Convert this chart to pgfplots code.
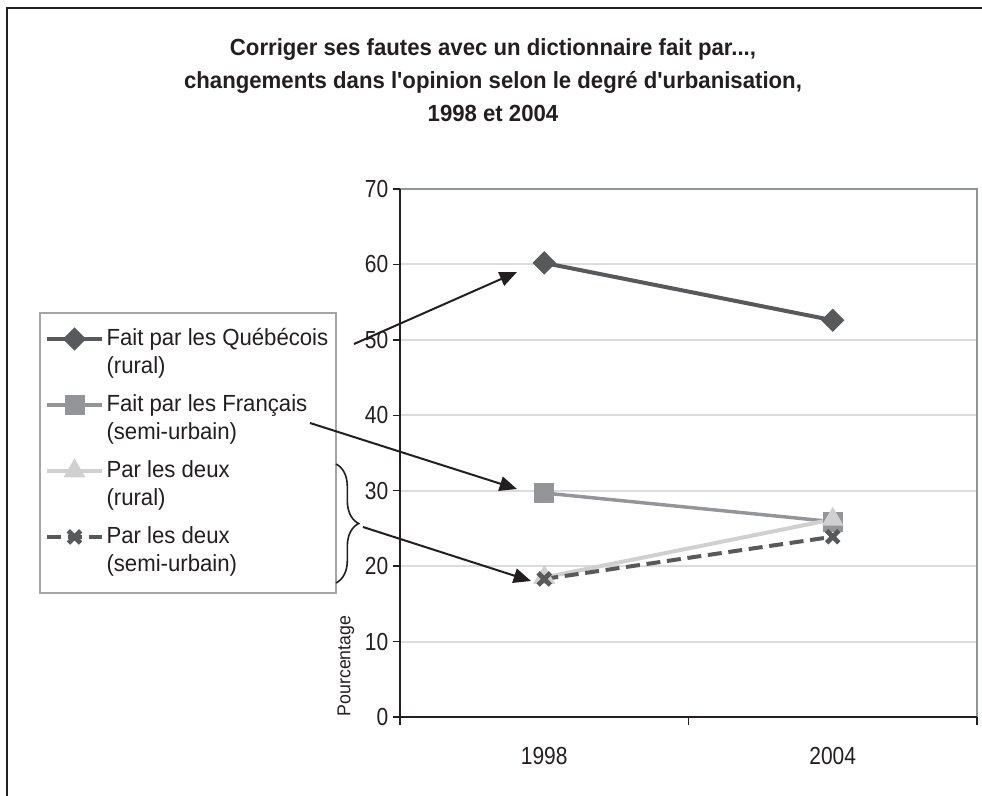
\documentclass[border=0pt]{standalone}
\usepackage{fontspec}
\setmainfont[FakeStretch=0.95, Ligatures=TeXOff]{Liberation Sans}
\newfontfamily\tickfont[FakeStretch=0.85]{Liberation Sans}
\usepackage{pgfplots}
\pgfplotsset{compat=1.18}
\usetikzlibrary{arrows.meta,decorations.pathreplacing}

\definecolor{qcol}{HTML}{58595B}
\definecolor{fcol}{HTML}{939598}
\definecolor{rcol}{HTML}{D0D0D0}
\definecolor{boxcol}{HTML}{8E969B}
\definecolor{gridcol}{HTML}{DCDCDC}
\definecolor{legcol}{HTML}{A5A5A5}
\definecolor{ink}{HTML}{231F20}

\begin{document}
\begin{tikzpicture}
% page = 982 x 796 px, 1 px = 0.75pt
\path[use as bounding box] (0,0) rectangle (736.5pt,-597pt);

\begin{axis}[
  at={(300pt,-537.75pt)}, anchor=south west,
  scale only axis, width=432.75pt, height=396pt,
  clip=false,
  xmin=0, xmax=2, ymin=0, ymax=70,
  xtick={0.5,1.5}, xticklabels={1998,2004},
  minor xtick={0,1,2},
  ytick={0,10,...,70},
  tick pos=left, tick align=outside,
  major x tick style={draw=none},
  major tick length=5.25pt, minor tick length=6pt,
  tick style={ink, line width=1pt},
  ymajorgrids, grid style={gridcol, line width=1.5pt},
  axis line style={draw=none},
  ticklabel style={font=\tickfont\fontsize{18.5}{20}\selectfont, text=ink},
  /pgf/number format/assume math mode=true,
  xticklabel style={yshift=-14pt},
  legend style={at={(-0.625,0.7675)}, anchor=north west,
    draw=legcol, line width=1.5pt, fill=white,
    font=\fontsize{17.5}{21}\selectfont, text=ink,
    row sep=3.5pt, inner xsep=3.6pt, inner ysep=7.9pt,
    nodes={text depth=, inner sep=2pt},
    cells={anchor=base west}},
  legend cell align=left,
  legend image code/.code={
    \draw[mark repeat=2, mark phase=2, #1]
      plot coordinates {(0pt,11.25pt) (20.5pt,11.25pt) (41pt,11.25pt)};},
]
\addplot[qcol, line width=3pt, mark=square*, mark size=4.7pt,
  mark options={rotate=45, solid}] coordinates {(0.5,60.2) (1.5,52.6)};
\addlegendentry{\begin{tabular}[t]{@{}l@{}}Fait par les Québécois\\(rural)\end{tabular}}
\addplot[fcol, line width=2.6pt, mark=square*, mark size=6.2pt,
  mark options={solid}] coordinates {(0.5,29.7) (1.5,25.9)};
\addlegendentry{\begin{tabular}[t]{@{}l@{}}Fait par les Français\\(semi-urbain)\end{tabular}}
\addplot[rcol, line width=3pt, mark=triangle*, mark size=6.5pt,
  mark options={solid}] coordinates {(0.5,18.5) (1.5,26.2)};
\addlegendentry{\begin{tabular}[t]{@{}l@{}}Par les deux\\(rural)\end{tabular}}
\addplot[qcol, line width=3pt, dash pattern=on 10.5pt off 5pt, mark=x,
  mark size=6.5pt, mark options={solid, line width=3.6pt}]
  coordinates {(0.5,18.3) (1.5,23.9)};
\addlegendentry{\begin{tabular}[t]{@{}l@{}}Par les deux\\(semi-urbain)\end{tabular}}

\draw[boxcol, line width=1.9pt] (rel axis cs:0,1) -- (rel axis cs:1,1) -- (rel axis cs:1,0);
\draw[ink, line width=1.1pt] (rel axis cs:0,1) -- (rel axis cs:0,0) -- (rel axis cs:1,0);
\end{axis}

\begin{scope}[x=0.75pt, y=-0.75pt]
  % outer frame
  \draw[ink, line width=1.8pt] (7,800) -- (7,8) -- (990,8);
  % title
  \node[font=\bfseries\fontsize{17.5}{24.75}\selectfont, text=ink, align=center]
    at (493,80) {Corriger ses fautes avec un dictionnaire fait par...,\\
    changements dans l'opinion selon le degré d'urbanisation,\\1998 et 2004};
  % y label
  \node[rotate=90, font=\fontsize{14}{16}\selectfont, text=ink] at (346,666) {Pourcentage};
  % arrows
  \draw[ink, line width=1.5pt, -{Triangle[length=13pt, width=11pt]}] (354,344) -- (517,272);
  \draw[ink, line width=1.5pt, -{Triangle[length=13pt, width=11pt]}] (310,423) -- (517,489);
  \draw[ink, line width=1.5pt, -{Triangle[length=13pt, width=11pt]}] (363,527) -- (531,581);
  % brace
  \draw[ink, line width=1.2pt, decorate, decoration={brace, amplitude=17pt}]
    (336,464) -- (336,583);
\end{scope}
\end{tikzpicture}
\end{document}
